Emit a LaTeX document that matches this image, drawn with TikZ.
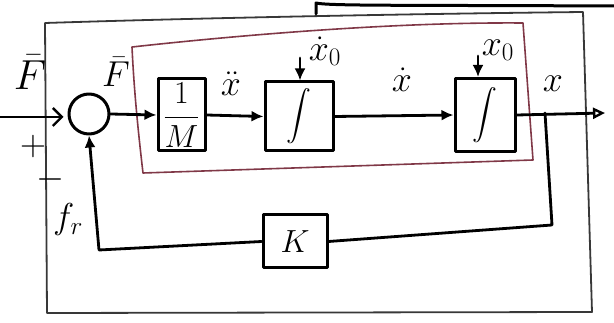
\RequirePackage{fix-cm}
\documentclass[tikz,border=0pt]{standalone}
\usepackage{amsmath}
\usetikzlibrary{arrows.meta}
\begin{document}
\begin{tikzpicture}[x=1pt,y=-1pt,line join=round,line cap=round]
\useasboundingbox (0,0) rectangle (614,323);
\definecolor{frame}{rgb}{0.22,0.22,0.22}
\definecolor{plant}{rgb}{0.50,0.22,0.28}
\tikzset{
  blk/.style={draw,line width=3pt,inner sep=0pt,anchor=center,font=\fontsize{32}{36}\selectfont},
  wire/.style={line width=2.8pt},
  lbl/.style={inner sep=0pt,font=\fontsize{36}{40}\selectfont},
  fill tip/.style={-{Latex[length=12pt,width=11pt]}},
}
% outer frame and the plant sub-system
\draw[frame,line width=1.8pt] (45,23) .. controls (200,18) and (400,14) .. (583,12)
  -- (592,312) -- (47,313) -- cycle;
\draw[plant,line width=1.6pt] (132,47) .. controls (250,34) and (400,22) .. (523,23)
  -- (533,160) -- (143,173) .. controls (138,130) and (134,90) .. cycle;
% line leaving the upper edge
\draw[line width=3pt] (316,14) -- (316,3) .. controls (330,6) and (400,5) .. (614,6);

% blocks
\node[blk,circle,minimum size=40pt] (sum) at (89,114) {};
\node[blk,minimum width=47pt,minimum height=72pt] (inv) at (181.5,115) {$\dfrac{1}{M}$};
\node[blk,minimum width=68pt,minimum height=69pt] (int1) at (299,116.5) {$\displaystyle\int$};
\node[blk,minimum width=60pt,minimum height=73pt] (int2) at (485,115) {$\displaystyle\int$};
\node[blk,minimum width=64pt,minimum height=53pt] (gain) at (295,241.5) {$K$};

% free ends
\coordinate (in) at (0,117);
\coordinate (out) at (605,113);
\coordinate (br) at (545,113);
\coordinate (fbr) at (552,225);
\coordinate (fbl) at (99,250);
\coordinate (ic1) at (300,58);
\coordinate (ic2) at (478,56);

% forward path
\draw[wire,-{Straight Barb[length=9pt,width=18pt,line width=2.4pt]}] (in) -- ([xshift=-4pt]sum.west |- in);
\draw[wire,fill tip] (sum.east) -- (inv.west);
\draw[wire,fill tip] (inv.east) -- (int1.west);
\draw[wire,fill tip] (int1.east) -- (int2.west);
\draw[wire,-{Triangle[open,length=12pt,width=11pt,line width=2.4pt]}] (int2.east) -- (out);
\draw[wire,fill tip] (ic1) -- (ic1 |- int1.north);
\draw[wire,fill tip] (ic2) -- (ic2 |- int2.north);

% feedback path
\draw[wire] (br) -- (fbr) -- (gain.east);
\draw[wire,fill tip] (gain.west) -- (fbl) -- (sum.south);

% signal labels
\node[lbl,font=\fontsize{42}{46}\selectfont] (lF) at (30,72) {$\bar{F}$};
\node[lbl] (lplus) at (33,147) {$+$};
\node[lbl] (lminus) at (51,180) {$-$};
\node[lbl] (lFs) at (116,72) {$\bar{F}$};
\node[lbl] (lxdd) at (231,84) {$\ddot{x}$};
\node[lbl] (lxd0) at (325,51) {$\dot{x}_{0}$};
\node[lbl] (lxd) at (402,80) {$\dot{x}$};
\node[lbl] (lx0) at (498,50) {$x_{0}$};
\node[lbl] (lx) at (553,84) {$x$};
\node[lbl] (lfr) at (68,220) {$f_{r}$};
\end{tikzpicture}
\end{document}
